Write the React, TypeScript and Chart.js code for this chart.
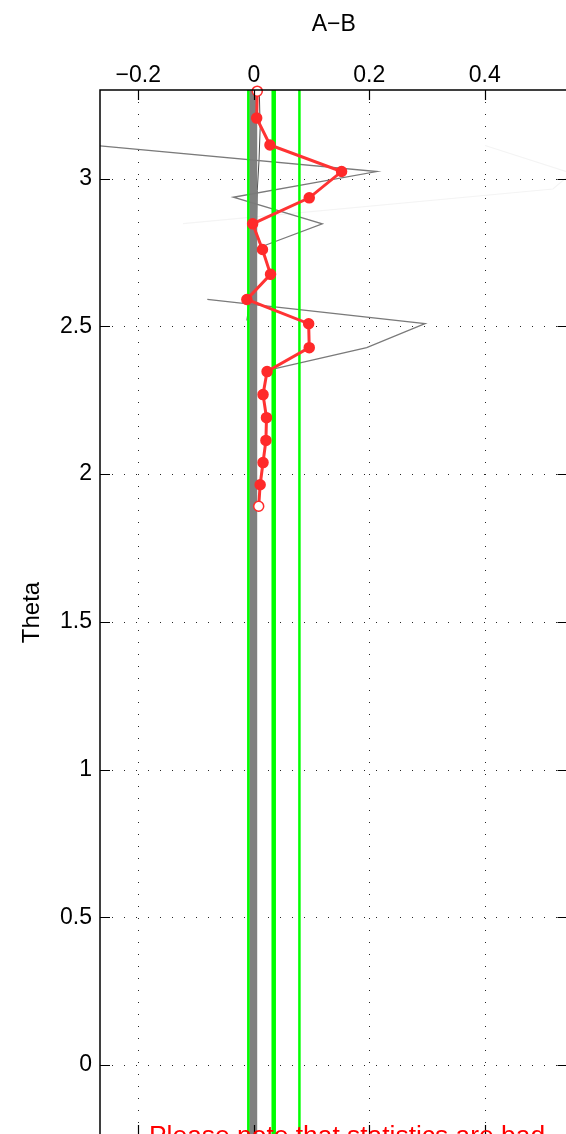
import React, { useEffect, useRef } from 'react';
import { Chart, registerables } from 'chart.js';

Chart.register(...registerables);

// ---- data ----
const xTickValues = [-0.2, 0, 0.2, 0.4];
const yTickValues = [0, 0.5, 1, 1.5, 2, 2.5, 3];

// main red series (A-B vs Theta)
const thetaRed = [3.296, 3.205, 3.114, 3.024, 2.935, 2.847, 2.76, 2.676, 2.591, 2.509, 2.428, 2.347, 2.269, 2.191, 2.114, 2.039, 1.964, 1.891];
const diffRed = [0.006, 0.005, 0.028, 0.152, 0.096, -0.002, 0.015, 0.029, -0.012, 0.095, 0.096, 0.023, 0.016, 0.022, 0.021, 0.016, 0.011, 0.0085];

// thin gray series (with a gap)
const thetaGray = [3.114, 3.024, 2.937, 2.847, 2.772, null, 2.591, 2.509, 2.428, 2.357];
const diffGray = [-0.284, 0.213, -0.0355, 0.1186, 0.0165, null, -0.0805, 0.2965, 0.1955, 0.0367];

// thin dark series near zero
const thetaDark = [3.3, 3.17, 3.06, 2.96, 2.85, 2.7, 2.52];
const diffDark = [0.0095, 0.011, 0.009, 0.006, 0.005, 0.0, -0.012];

// very faint series
const thetaFaint = [3.112, 3.018, 2.965, 2.848];
const diffFaint = [0.4005, 0.55, 0.518, -0.1226];

// reference vertical lines
const grayBarX = -0.001;
const greenLinesX = [-0.0095, 0.0345, 0.079];
const greenLinesW = [2.5, 4.5, 2.5];

const titleText = 'A\u2212B';
const yLabelText = 'Theta';
const noteText = 'Please note that statistics are bad';

// ---- axis ranges ----
const X_MIN = -0.2663;
const X_MAX = 0.5432;
const Y_MIN = -0.237;
const Y_MAX = 3.3;

// ---- layout ----
const CW = 580;
const CH = 1150;
const AREA_LEFT = 100;
const AREA_TOP = 90;
const AREA_RIGHT = 567.5;
const AREA_BOTTOM = 1135;
const FONT = '"Liberation Sans", Arial, Helvetica, sans-serif';

const fmt = (v: number) => {
  if (v === 0) return '0';
  const s = String(Math.abs(v));
  return v < 0 ? '\u2212' + s : s;
};

const pts = (xs: (number | null)[], ys: (number | null)[]) =>
  xs.map((x, i) => ({ x: x as any, y: ys[i] as any }));

const vline = (v: number) => [
  { x: v, y: Y_MIN - 1 },
  { x: v, y: Y_MAX + 1 },
];

const decor = {
  id: 'decor',
  beforeDatasetsDraw(chart: any) {
    const { ctx, chartArea: a, scales } = chart;
    const xs = scales.x;
    const ys = scales.y;
    ctx.save();
    ctx.strokeStyle = 'rgba(0,0,0,0.85)';
    ctx.lineWidth = 1;
    ctx.setLineDash([1, 11]);
    xTickValues.forEach((v) => {
      const px = Math.round(xs.getPixelForValue(v)) + 0.5;
      ctx.beginPath();
      ctx.moveTo(px, a.top);
      ctx.lineTo(px, a.bottom);
      ctx.stroke();
    });
    yTickValues.forEach((v) => {
      const py = Math.round(ys.getPixelForValue(v)) + 0.5;
      ctx.beginPath();
      ctx.moveTo(a.left, py);
      ctx.lineTo(a.right, py);
      ctx.stroke();
    });
    ctx.restore();
  },
  afterDatasetsDraw(chart: any) {
    const { ctx, chartArea: a, scales } = chart;
    const xs = scales.x;
    const ys = scales.y;
    ctx.save();
    ctx.setLineDash([]);
    ctx.strokeStyle = '#000';
    ctx.lineWidth = 1.5;
    ctx.strokeRect(a.left, a.top, a.right - a.left, a.bottom - a.top);
    ctx.lineWidth = 1.2;
    const TL = 10;
    xTickValues.forEach((v) => {
      const px = Math.round(xs.getPixelForValue(v)) + 0.5;
      ctx.beginPath();
      ctx.moveTo(px, a.top);
      ctx.lineTo(px, a.top + TL);
      ctx.moveTo(px, a.bottom);
      ctx.lineTo(px, a.bottom - TL);
      ctx.stroke();
    });
    yTickValues.forEach((v) => {
      const py = Math.round(ys.getPixelForValue(v)) + 0.5;
      ctx.beginPath();
      ctx.moveTo(a.left, py);
      ctx.lineTo(a.left + TL, py);
      ctx.moveTo(a.right, py);
      ctx.lineTo(a.right - TL, py);
      ctx.stroke();
    });

    ctx.fillStyle = '#000';
    ctx.font = `23px ${FONT}`;
    ctx.textAlign = 'center';
    ctx.textBaseline = 'alphabetic';
    ctx.fillText(titleText, (a.left + a.right) / 2, 31);

    ctx.save();
    ctx.font = `24px ${FONT}`;
    ctx.translate(32.5, (a.top + a.bottom) / 2);
    ctx.rotate(-Math.PI / 2);
    ctx.textBaseline = 'middle';
    ctx.fillText(yLabelText, 0, 0);
    ctx.restore();

    ctx.fillStyle = '#ff0000';
    ctx.font = `26.4px ${FONT}`;
    ctx.textAlign = 'left';
    ctx.textBaseline = 'alphabetic';
    ctx.fillText(noteText, 149, 1144);
    ctx.restore();
  },
};

export default function App() {
  const ref = useRef<HTMLCanvasElement | null>(null);

  useEffect(() => {
    if (!ref.current) return;
    const datasets: any[] = [
      {
        label: 'faint',
        data: pts(diffFaint, thetaFaint),
        borderColor: '#f4f4f4',
        borderWidth: 1.2,
        pointRadius: 0,
        order: 6,
      },
      {
        label: 'bar',
        data: vline(grayBarX),
        borderColor: '#808080',
        borderWidth: 8,
        pointRadius: 0,
        order: 4,
        clip: 0,
      },
      {
        label: 'dark',
        data: pts(diffDark, thetaDark),
        borderColor: '#4a4a4a',
        borderWidth: 1,
        pointRadius: 0,
        order: 5,
      },
      {
        label: 'gray',
        data: pts(diffGray, thetaGray),
        borderColor: '#7a7a7a',
        borderWidth: 1.3,
        pointRadius: 0,
        spanGaps: false,
        order: 3,
      },
      ...greenLinesX.map((v, i) => ({
        label: 'green' + i,
        data: vline(v),
        borderColor: '#00ff00',
        borderWidth: greenLinesW[i],
        pointRadius: 0,
        order: 2,
        clip: 0,
      })),
      {
        label: 'A-B',
        data: pts(diffRed, thetaRed),
        borderColor: '#ff3333',
        borderWidth: 3,
        pointRadius: 5,
        pointBorderWidth: 1.5,
        pointBorderColor: '#ff2a2a',
        pointBackgroundColor: thetaRed.map((_, i) =>
          i === 0 || i === thetaRed.length - 1 ? '#ffffff' : '#ff2a2a'
        ),
        order: 0,
        clip: false,
      },
    ];

    const chart = new Chart(ref.current, {
      type: 'line',
      data: { datasets },
      options: {
        responsive: false,
        animation: false,
        layout: {
          padding: { left: 0, top: 0, right: CW - AREA_RIGHT, bottom: CH - AREA_BOTTOM },
        },
        elements: { line: { tension: 0 } },
        plugins: {
          legend: { display: false },
          tooltip: { enabled: false },
          title: { display: false },
        },
        scales: {
          x: {
            type: 'linear',
            position: 'top',
            min: X_MIN,
            max: X_MAX,
            afterBuildTicks: (s: any) => {
              s.ticks = xTickValues.map((v) => ({ value: v }));
            },
            afterFit: (s: any) => {
              s.height = AREA_TOP;
              s.paddingLeft = 0;
              s.paddingRight = 0;
            },
            grid: { display: false, drawTicks: false },
            border: { display: false },
            ticks: {
              autoSkip: false,
              maxRotation: 0,
              padding: 1,
              color: '#000',
              font: { family: FONT, size: 23 },
              callback: (v: any) => fmt(Number(v)),
            },
          },
          y: {
            type: 'linear',
            position: 'left',
            min: Y_MIN,
            max: Y_MAX,
            afterBuildTicks: (s: any) => {
              s.ticks = yTickValues.map((v) => ({ value: v }));
            },
            afterFit: (s: any) => {
              s.width = AREA_LEFT;
              s.paddingTop = 0;
              s.paddingBottom = 0;
            },
            grid: { display: false, drawTicks: false },
            border: { display: false },
            ticks: {
              autoSkip: false,
              padding: 8,
              color: '#000',
              font: { family: FONT, size: 23 },
              callback: (v: any) => fmt(Number(v)),
            },
          },
        },
      } as any,
      plugins: [decor],
    });
    return () => chart.destroy();
  }, []);

  return (
    <div
      style={{
        position: 'fixed',
        left: 0,
        top: 0,
        width: 566,
        height: 1134,
        overflow: 'hidden',
        background: '#fff',
      }}
    >
      <canvas ref={ref} width={CW} height={CH} style={{ display: 'block', width: CW, height: CH }} />
    </div>
  );
}
